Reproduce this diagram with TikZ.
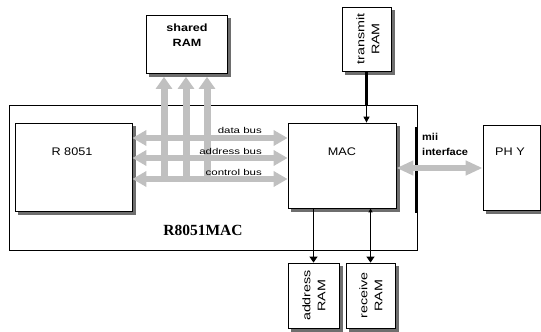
\documentclass[tikz,border=0pt]{standalone}
\usepackage{fontspec}
\setmainfont{Liberation Sans}
\newfontfamily\serifbold{Liberation Serif}
\usetikzlibrary{arrows.meta}
\definecolor{busgray}{RGB}{192,192,192}
\definecolor{shadowgray}{RGB}{110,110,110}
\begin{document}
\begin{tikzpicture}[x=1pt,y=-1pt,
  box/.style={draw=black, line width=0.8pt, fill=white, inner sep=0pt},
  shadowfill/.style={fill=shadowgray},
  outerbox/.style={draw=black, line width=0.8pt, inner sep=0pt},
  lbl/.style={font=\fontsize{11}{13}\selectfont, inner sep=0pt},
  ramlbl/.style={font=\fontsize{11}{15}\selectfont, inner sep=0pt, align=center, rotate=90},
  buslbl/.style={font=\fontsize{8.5}{10}\selectfont, inner sep=0pt, anchor=east},
  bus/.style={draw=busgray, line width=6.5pt,
    {Triangle[width=15pt,length=14pt]}-{Triangle[width=15pt,length=14pt]}},
  busup/.style={draw=busgray, line width=7pt, -{Triangle[width=16pt,length=12pt]}},
  ramline/.style={draw=black, line width=1pt},
]
\useasboundingbox (0,0) rectangle (541,332);

% outer block
\node[outerbox, minimum width=408pt, minimum height=145pt] (outer) at (213,177.5) {};
\draw[line width=2pt] (416,127) coordinate (tk1) -- (416,213) coordinate (tk2);
\node[font=\serifbold\bfseries\fontsize{15.5}{17}\selectfont, inner sep=0pt] (outerlbl) at (203,230) {R8051MAC};

% boxes
\node[box, minimum width=117pt, minimum height=88pt] (r) at (73.5,167) {};
\node[lbl] (rlbl) at (72,152) {\scalebox{1.15}[1]{R 8051}};
\node[box, minimum width=108pt, minimum height=85pt] (mac) at (342,165.5) {};
\node[lbl] (maclbl) at (342,152) {\scalebox{1.15}[1]{MAC}};
\node[box, minimum width=57pt, minimum height=85pt] (phy) at (511.5,167.5) {};
\node[lbl] (phylbl) at (510,152) {\scalebox{1.15}[1]{PH Y}};

\node[box, minimum width=81pt, minimum height=58pt] (shared) at (186.5,44) {};
\node[font=\bfseries\fontsize{10.5}{15}\selectfont, inner sep=0pt, align=center] (sharedlbl) at (187,35.5)
  {\scalebox{1.2}[1]{shared}\\\scalebox{1.2}[1]{RAM}};

\node[box, minimum width=49pt, minimum height=64pt] (tx) at (366.5,39) {};
\node[ramlbl] (txlbl) at (368,39) {\scalebox{1.3}[1]{transmit}\\\scalebox{1.3}[1]{RAM}};

\node[box, minimum width=51pt, minimum height=65pt] (addr) at (313.5,295.5) {};
\node[ramlbl] (addrlbl) at (314,295.5) {\scalebox{1.3}[1]{address}\\\scalebox{1.3}[1]{RAM}};

\node[box, minimum width=49pt, minimum height=65pt] (rcv) at (370.5,295.5) {};
\node[ramlbl] (rcvlbl) at (371,295.5) {\scalebox{1.3}[1]{receive}\\\scalebox{1.3}[1]{RAM}};

% shadows: strips on the right and bottom of each box
\foreach \b in {r,mac,phy,shared,tx,addr,rcv}{
  \fill[shadowfill] ([shift={(0.4,3)}]\b.north east) rectangle ([shift={(3.4,3.4)}]\b.south east);
  \fill[shadowfill] ([shift={(3,0.4)}]\b.south west) rectangle ([shift={(3.4,3.4)}]\b.south east);
}

% buses
\coordinate (ydata) at (0,138);
\coordinate (yaddr) at (0,158);
\coordinate (yctrl) at (0,179);
\draw[bus] (r.east |- ydata) -- (mac.west |- ydata);
\draw[bus] (r.east |- yaddr) -- (mac.west |- yaddr);
\draw[bus] (r.east |- yctrl) -- (mac.west |- yctrl);
\coordinate (v1) at (164,182);
\coordinate (v2) at (186,182);
\coordinate (v3) at (207,182);
\draw[busup, shorten >=3.5pt] (v1) -- (v1 |- shared.south);
\draw[busup, shorten >=3.5pt] (v2) -- (v2 |- shared.south);
\draw[busup, shorten >=3.5pt] (v3) -- (v3 |- shared.south);
\node[buslbl] (dlbl) at (262,130) {\scalebox{1.35}[1]{data bus}};
\node[buslbl] (albl) at (262,151) {\scalebox{1.35}[1]{address bus}};
\node[buslbl] (clbl) at (262,172) {\scalebox{1.35}[1]{control bus}};

% mii
\coordinate (ymii) at (0,168);
\draw[draw=busgray, line width=6pt,
  {Triangle[width=14pt,length=17pt]}-{Triangle[width=14pt,length=17pt]}]
  (mac.east |- ymii) -- (phy.west |- ymii);
\node[font=\bfseries\fontsize{10}{15}\selectfont, inner sep=0pt, align=left, anchor=west] (miilbl) at (422,144.5)
  {\scalebox{1.1}[1]{mii}\\\scalebox{1.1}[1]{interface}};

% RAM links
\coordinate (txjoin) at (tx.south |- outer.north);
\draw[line width=2.6pt] (tx.south) -- (txjoin);
\draw[line width=1pt, -{Triangle[width=6pt,length=6pt]}] (txjoin) -- (tx.south |- mac.north);
\draw[ramline, -{Triangle[width=8pt,length=6pt]}] (addr.north |- mac.south) -- (addr.north);
\draw[ramline, {Triangle[width=4pt,length=4pt]}-{Triangle[width=8pt,length=6pt]}] (rcv.north |- mac.south) -- (rcv.north);
\end{tikzpicture}
\end{document}
